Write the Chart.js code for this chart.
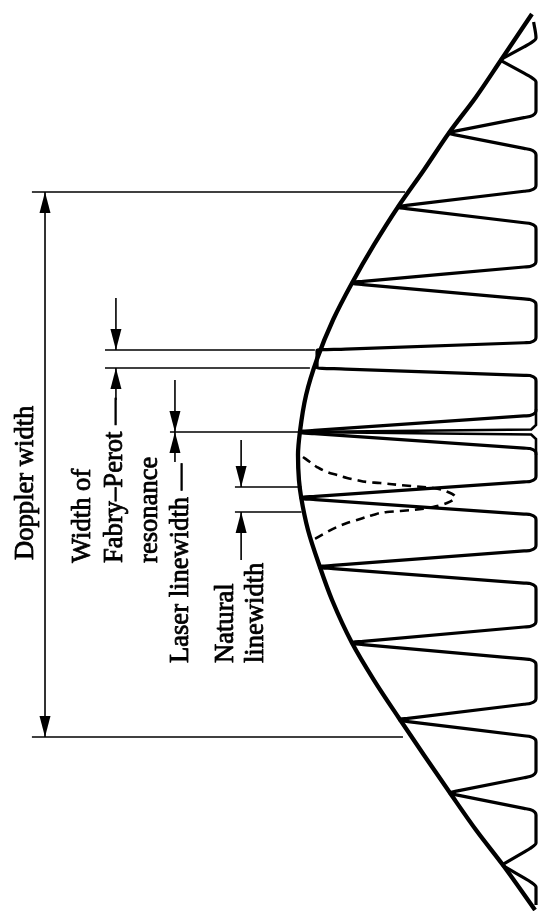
<!DOCTYPE html>
<html>
<head>
<meta charset="utf-8">
<script src="https://cdn.jsdelivr.net/npm/chart.js@4/dist/chart.umd.min.js"></script>
<style>
  html, body { margin: 0; padding: 0; background: #fff; }
  #wrap { width: 543px; height: 911px; position: relative; }
</style>
</head>
<body>
<div id="wrap"><canvas id="c"></canvas></div>
<script>
// ---------- DATA (frequency in mode spacings, intensity relative to gain peak) ----------
// Doppler (gain) envelope
const envFreq = [-6.066,-5.437,-4.932,-4.440,-3.934,-3.429,-2.910,-2.391,-1.885,-1.352,-0.861,-0.355,-0.041,0.301,0.533,0.984,1.489,1.940,2.527,3.033,3.552,4.057,4.577,5.082,5.560,6.175];
const envInt  = [0.017,0.147,0.252,0.366,0.471,0.580,0.681,0.773,0.853,0.920,0.966,0.992,1.000,0.996,0.987,0.958,0.908,0.857,0.773,0.681,0.576,0.471,0.361,0.252,0.139,0.004];

// Fabry-Perot resonances: centre frequency, height, half-width of the flattened top
const peakFreq    = [-5.437,-4.440,-3.429,-2.391,-1.352,-0.355,0.546,1.489,2.527,3.579,4.577,5.560];
const peakHeight  = [0.147,0.366,0.580,0.773,0.920,0.992,0.987,0.908,0.773,0.572,0.361,0.139];
const peakTipHalf = [0,0,0,0,0.123,0,0,0,0,0,0,0];
const combStart = [-5.956, 0.010];
const combEnd   = [6.107, 0.0];

// narrow laser line inside the central resonance
const laserFreq = [-0.669,-0.451,-0.389,-0.355,-0.321,-0.260,-0.041];
const laserInt  = [0.0,0.0,0.020,0.992,0.020,0.0,0.0];

// natural (homogeneous) line, dashed
const natFreq = [-0.014,0.055,0.123,0.191,0.232,0.273,0.301,0.328,0.342,0.369,0.410,0.464,0.533,0.615,0.669,0.710,0.738,0.779,0.847,0.888,0.943,1.011,1.120];
const natInt  = [0.979,0.950,0.920,0.878,0.836,0.794,0.752,0.710,0.655,0.571,0.433,0.370,0.340,0.374,0.433,0.517,0.626,0.685,0.752,0.794,0.836,0.878,0.937];

// ---------- ANNOTATIONS ----------
const dimLineFreq = [-3.634, 3.811, -1.475, -1.230, -0.355, 0.396, 0.738];
const dimLineFrom = [2.118, 2.118, 1.811, 1.811, 1.538, 1.265, 1.265];
const dimLineTo   = [0.550, 0.559, 0.929, 0.950, 1.000, 0.985, 0.985];

// arrow shafts: intensity position, start freq, end freq
const shaftInt  = [2.063, 1.765, 1.765, 1.517, 1.517, 1.239, 1.239];
const shaftFrom = [-3.634, -2.186, -1.230, -1.066, -0.355, -0.246, 0.738];
const shaftTo   = [3.811, -1.475, -0.792, -0.355, 0.055, 0.396, 1.393];
// arrow heads: intensity, tip freq, direction (+1 points to higher freq / down)
const headInt  = [2.063, 2.063, 1.765, 1.765, 1.517, 1.517, 1.239, 1.239];
const headFreq = [-3.634, 3.811, -1.475, -1.230, -0.355, -0.355, 0.396, 0.738];
const headDir  = [-1, 1, 1, -1, 1, -1, 1, -1];

const labelText = ['Doppler width', 'Width of', 'Fabry\u2013Perot \u2014', 'resonance', 'Laser linewidth \u2014', 'Natural', 'linewidth'];
const labelInt  = [2.113, 1.874, 1.739, 1.592, 1.462, 1.273, 1.147];
const labelFreq = [1.393, 1.434, 1.434, 1.434, 2.801, 2.801, 2.801];

// ---------- build comb curve from peak list ----------
const PX_I = 1/238, PX_F = 1/73.2;
function combPoints() {
  const pts = [{x: combStart[1], y: combStart[0]}];
  const h1 = 16.5*PX_F, hB = 22*PX_F, xA = 6*PX_I, xA2 = 12*PX_I;
  peakFreq.forEach((c, k) => {
    const E = peakHeight[k];
    const h0 = Math.max(peakTipHalf[k], 0.6*PX_F);
    const dAt = X => h0 + (h1 - h0) * (E - X) / (E - xA);
    const n2 = h0 + 1*PX_F;
    const xN2 = E - (E - xA) * (1*PX_F) / (h1 - h0);
    const side = [{d: hB, X: 0}, {d: h1, X: xA}, {d: dAt(xA2), X: xA2}, {d: n2, X: xN2}, {d: h0, X: E}];
    side.forEach(p => pts.push({x: p.X, y: c - p.d}));
    side.slice().reverse().forEach(p => pts.push({x: p.X, y: c + p.d}));
  });
  pts.push({x: combEnd[1], y: combEnd[0]});
  return pts;
}
const zip = (fs, is) => fs.map((f, i) => ({x: is[i], y: f}));

const base = {showLine: true, pointRadius: 0, borderColor: '#000', fill: false, indexAxis: 'y'};
const datasets = [
  Object.assign({}, base, {label: 'envelope', data: zip(envFreq, envInt), borderWidth: 4.3, cubicInterpolationMode: 'monotone'}),
  Object.assign({}, base, {label: 'comb', data: combPoints(), borderWidth: 3.2, cubicInterpolationMode: 'monotone', borderJoinStyle: 'round'}),
  Object.assign({}, base, {label: 'laser', data: zip(laserFreq, laserInt), borderWidth: 2.6, tension: 0}),
  Object.assign({}, base, {label: 'natural', data: zip(natFreq, natInt), borderWidth: 2.6, borderDash: [9, 6], cubicInterpolationMode: 'monotone'})
];
dimLineFreq.forEach((f, i) => datasets.push(Object.assign({}, base, {
  data: [{x: dimLineFrom[i], y: f}, {x: dimLineTo[i], y: f}], borderWidth: 1.4, tension: 0})));
shaftInt.forEach((v, i) => datasets.push(Object.assign({}, base, {
  data: [{x: v, y: shaftFrom[i]}, {x: v, y: shaftTo[i]}], borderWidth: 1.6, tension: 0})));

const annot = {
  id: 'annot',
  afterDatasetsDraw(chart) {
    const ctx = chart.ctx, xs = chart.scales.x, ys = chart.scales.y;
    ctx.save();
    ctx.fillStyle = '#000';
    ctx.strokeStyle = '#000';
    headInt.forEach((v, i) => {
      const x = xs.getPixelForValue(v), y = ys.getPixelForValue(headFreq[i]);
      const L = 21 * headDir[i];
      ctx.beginPath();
      ctx.moveTo(x, y);
      ctx.lineTo(x - 5.5, y - L);
      ctx.lineTo(x + 5.5, y - L);
      ctx.closePath();
      ctx.fill();
    });
    ctx.font = '26.6px "Liberation Serif", "DejaVu Serif", serif';
    ctx.textAlign = 'left';
    ctx.textBaseline = 'alphabetic';
    ctx.lineWidth = 0.8;
    ctx.lineJoin = 'round';
    labelText.forEach((t, i) => {
      const x = xs.getPixelForValue(labelInt[i]), y = ys.getPixelForValue(labelFreq[i]);
      ctx.save();
      ctx.translate(x, y);
      ctx.rotate(-Math.PI / 2);
      ctx.fillText(t, 0, 0);
      ctx.strokeText(t, 0, 0);
      ctx.restore();
    });
    ctx.restore();
  }
};

new Chart(document.getElementById('c'), {
  type: 'scatter',
  data: {datasets},
  options: {
    responsive: true,
    maintainAspectRatio: false,
    animation: false,
    events: [],
    layout: {padding: 0},
    plugins: {legend: {display: false}, tooltip: {enabled: false}},
    scales: {
      x: {type: 'linear', min: -0.0294, max: 2.2521, reverse: true, display: false},
      y: {type: 'linear', min: -6.2568, max: 6.1885, reverse: true, display: false}
    }
  },
  plugins: [annot]
});
</script>
</body>
</html>
